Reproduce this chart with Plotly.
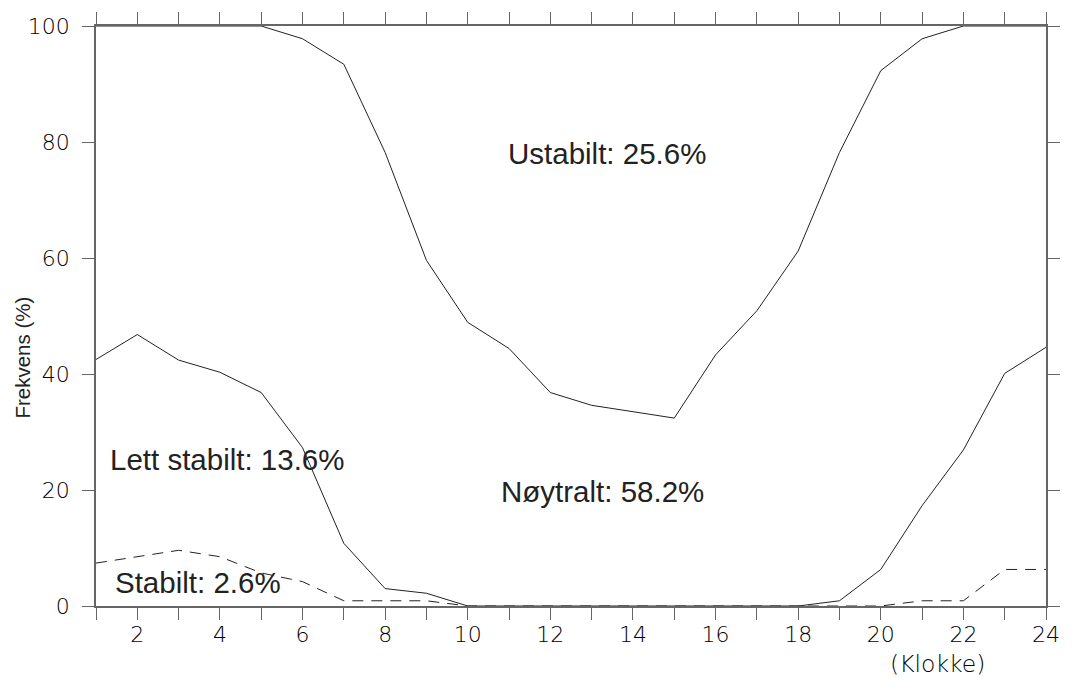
import plotly.graph_objects as go

hours = list(range(1, 25))

# Upper boundary: above this line = Ustabilt
ustabilt_grense = [100, 100, 100, 100, 100, 97.8, 93.4, 78.2, 59.6, 48.9, 44.4, 36.8,
                   34.6, 33.5, 32.4, 43.3, 50.9, 61.2, 78.2, 92.3, 97.8, 100, 100, 100]
# Lower boundary: below this line = Lett stabilt
lett_stabilt_grense = [42.5, 46.8, 42.4, 40.3, 36.8, 27.3, 10.8, 3.0, 2.2, 0, 0, 0,
                       0, 0, 0, 0, 0, 0, 0.9, 6.3, 17.3, 26.9, 40.1, 44.6]
# Stabilt (dashed)
stabilt = [7.4, 8.5, 9.6, 8.5, 5.7, 4.2, 0.9, 0.9, 0.9, 0, 0, 0,
           0, 0, 0, 0, 0, 0, 0, 0, 0.9, 0.9, 6.3, 6.3]

x_tickvals = hours
x_ticktext = [str(h) if h % 2 == 0 else "" for h in hours]
y_tickvals = [0, 20, 40, 60, 80, 100]

class_labels = [
    ("Ustabilt: 25.6%", 13.38, 78.0, "center"),
    ("Nøytralt: 58.2%", 13.27, 19.8, "center"),
    ("Lett stabilt: 13.6%", 1.29, 25.2, "left"),
    ("Stabilt: 2.6%", 1.41, 4.0, "left"),
]

W, H = 1072, 678
M_L, M_R, M_T, M_B = 96, 22, 23, 72
plot_w = W - M_L - M_R
plot_h = H - M_T - M_B


def px_to_paper(px, py):
    return (px - M_L) / plot_w, (H - M_B - py) / plot_h


line_col = "#222222"
axis_col = "#666666"
label_font = "Liberation Sans, Arial, sans-serif"
tick_font = dict(family="DejaVu Sans, sans-serif", size=22, color="#000000", weight=300)

fig = go.Figure()
fig.add_trace(go.Scatter(x=hours, y=ustabilt_grense, mode="lines",
                         line=dict(color=line_col, width=1), showlegend=False))
fig.add_trace(go.Scatter(x=hours, y=lett_stabilt_grense, mode="lines",
                         line=dict(color=line_col, width=1), showlegend=False))
fig.add_trace(go.Scatter(x=hours, y=stabilt, mode="lines",
                         line=dict(color=line_col, width=1, dash="11px,8px"), showlegend=False))

for text, x, y, align in class_labels:
    fig.add_annotation(x=x, y=y, text=text, showarrow=False,
                       xanchor=align, yanchor="middle",
                       font=dict(family=label_font, size=29.5, color="#222222"))

# x-axis unit, under the right-hand tick labels
kx, ky = px_to_paper(942, 664)
fig.add_annotation(x=kx, y=ky, xref="paper", yref="paper", text="(Klokke)",
                   showarrow=False, xanchor="center", yanchor="middle",
                   font=dict(family="DejaVu Sans, sans-serif", size=23.5, color="#000000", weight=300))

# y-axis title, rotated
tx, ty = px_to_paper(22, 356)
fig.add_annotation(x=tx, y=ty, xref="paper", yref="paper", text="Frekvens (%)",
                   showarrow=False, textangle=-90, xanchor="center", yanchor="middle",
                   font=dict(family=label_font, size=20.5, color="#222222"))

fig.update_xaxes(range=[1, 24], tickvals=x_tickvals, ticktext=x_ticktext,
                 ticks="outside", ticklen=12, tickwidth=1, tickcolor=axis_col,
                 showline=True, linecolor=axis_col, linewidth=1.5, mirror="allticks",
                 showgrid=False, zeroline=False, ticklabelstandoff=-4,
                 tickfont=tick_font)
fig.update_yaxes(range=[0, 100], tickvals=y_tickvals,
                 ticks="outside", ticklen=12, tickwidth=1, tickcolor=axis_col,
                 showline=True, linecolor=axis_col, linewidth=1.5, mirror="allticks",
                 showgrid=False, zeroline=False, ticklabelstandoff=8,
                 tickfont=tick_font)

fig.update_layout(width=W, height=H, margin=dict(l=M_L, r=M_R, t=M_T, b=M_B),
                  plot_bgcolor="white", paper_bgcolor="white")

fig.write_html("out.html")
